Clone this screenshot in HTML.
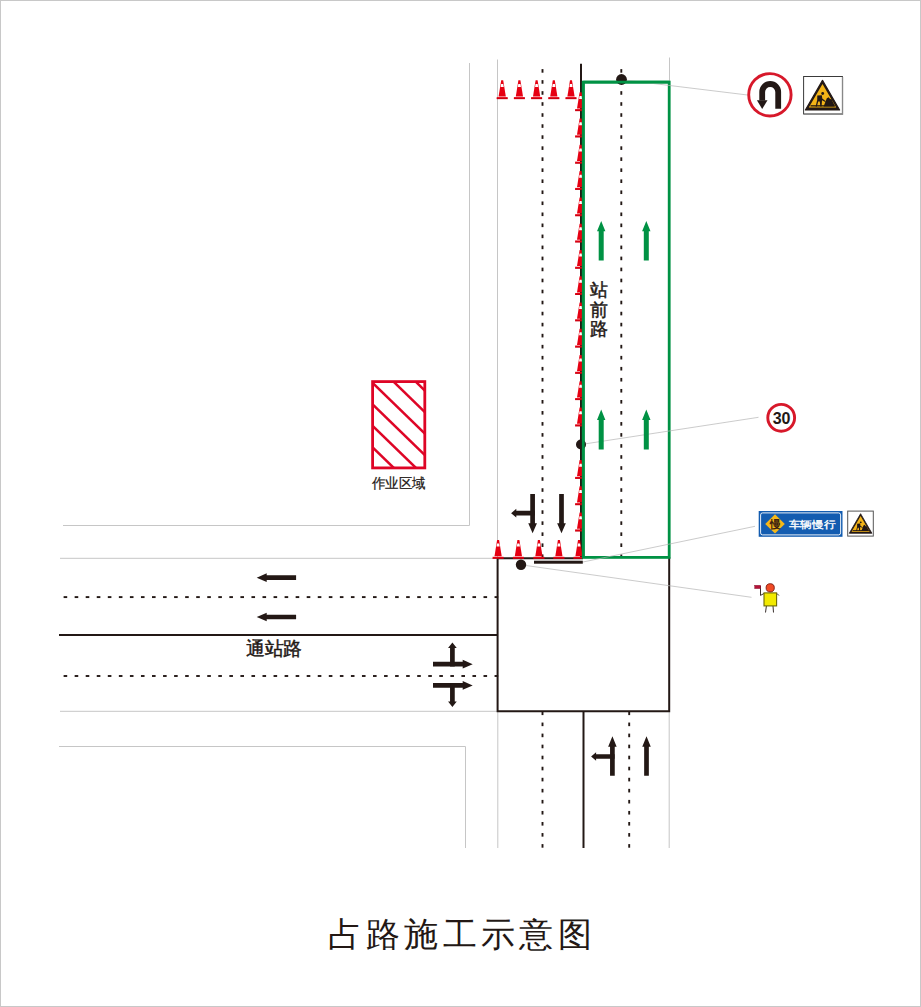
<!DOCTYPE html>
<html><head><meta charset="utf-8"><style>
html,body{margin:0;padding:0;background:#fff;}
svg{display:block;}
.t{font-family:"Liberation Sans",sans-serif;}
.s{font-family:"Liberation Serif",serif;}
</style></head><body>
<svg width="921" height="1007" viewBox="0 0 921 1007">
<defs><clipPath id="cl"><rect x="0" y="0" width="582" height="1007"/></clipPath></defs>
<rect x="0.5" y="0.5" width="920" height="1006" fill="#fff" stroke="#c8c8c8" stroke-width="1"/>

<path d="M63,525.5 H469.5 V63" fill="none" stroke="#c6c6c6" stroke-width="1"/>
<path d="M59,746.5 H465.5 V848" fill="none" stroke="#c6c6c6" stroke-width="1"/>
<path d="M497.5,59.5 V558" fill="none" stroke="#c6c6c6" stroke-width="1"/>
<path d="M669.5,57.5 V82" fill="none" stroke="#c6c6c6" stroke-width="1"/>
<path d="M60,558.3 H497.5" fill="none" stroke="#c6c6c6" stroke-width="1"/>
<path d="M60,711.3 H497.5" fill="none" stroke="#c6c6c6" stroke-width="1"/>
<path d="M497.8,711 V848 M669.2,711 V848" fill="none" stroke="#c6c6c6" stroke-width="1"/>
<path d="M581,63.7 V558" fill="none" stroke="#231815" stroke-width="2"/>
<path d="M59,634.9 H498" fill="none" stroke="#231815" stroke-width="2"/>
<path d="M583.5,711 V848" fill="none" stroke="#231815" stroke-width="2"/>
<path d="M497.6,558.3 V711.2 H669.2 V557" fill="none" stroke="#231815" stroke-width="2"/>
<path d="M497,558.3 H583" fill="none" stroke="#231815" stroke-width="2"/>
<rect x="541.55" y="69.10" width="1.9" height="3.6" fill="#231815"/><rect x="541.55" y="80.13" width="1.9" height="3.6" fill="#231815"/><rect x="541.55" y="91.16" width="1.9" height="3.6" fill="#231815"/><rect x="541.55" y="102.19" width="1.9" height="3.6" fill="#231815"/><rect x="541.55" y="113.22" width="1.9" height="3.6" fill="#231815"/><rect x="541.55" y="124.25" width="1.9" height="3.6" fill="#231815"/><rect x="541.55" y="135.28" width="1.9" height="3.6" fill="#231815"/><rect x="541.55" y="146.31" width="1.9" height="3.6" fill="#231815"/><rect x="541.55" y="157.34" width="1.9" height="3.6" fill="#231815"/><rect x="541.55" y="168.37" width="1.9" height="3.6" fill="#231815"/><rect x="541.55" y="179.40" width="1.9" height="3.6" fill="#231815"/><rect x="541.55" y="190.43" width="1.9" height="3.6" fill="#231815"/><rect x="541.55" y="201.46" width="1.9" height="3.6" fill="#231815"/><rect x="541.55" y="212.49" width="1.9" height="3.6" fill="#231815"/><rect x="541.55" y="223.52" width="1.9" height="3.6" fill="#231815"/><rect x="541.55" y="234.55" width="1.9" height="3.6" fill="#231815"/><rect x="541.55" y="245.58" width="1.9" height="3.6" fill="#231815"/><rect x="541.55" y="256.61" width="1.9" height="3.6" fill="#231815"/><rect x="541.55" y="267.64" width="1.9" height="3.6" fill="#231815"/><rect x="541.55" y="278.67" width="1.9" height="3.6" fill="#231815"/><rect x="541.55" y="289.70" width="1.9" height="3.6" fill="#231815"/><rect x="541.55" y="300.73" width="1.9" height="3.6" fill="#231815"/><rect x="541.55" y="311.76" width="1.9" height="3.6" fill="#231815"/><rect x="541.55" y="322.79" width="1.9" height="3.6" fill="#231815"/><rect x="541.55" y="333.82" width="1.9" height="3.6" fill="#231815"/><rect x="541.55" y="344.85" width="1.9" height="3.6" fill="#231815"/><rect x="541.55" y="355.88" width="1.9" height="3.6" fill="#231815"/><rect x="541.55" y="366.91" width="1.9" height="3.6" fill="#231815"/><rect x="541.55" y="377.94" width="1.9" height="3.6" fill="#231815"/><rect x="541.55" y="388.97" width="1.9" height="3.6" fill="#231815"/><rect x="541.55" y="400.00" width="1.9" height="3.6" fill="#231815"/><rect x="541.55" y="411.03" width="1.9" height="3.6" fill="#231815"/><rect x="541.55" y="422.06" width="1.9" height="3.6" fill="#231815"/><rect x="541.55" y="433.09" width="1.9" height="3.6" fill="#231815"/><rect x="541.55" y="444.12" width="1.9" height="3.6" fill="#231815"/><rect x="541.55" y="455.15" width="1.9" height="3.6" fill="#231815"/><rect x="541.55" y="466.18" width="1.9" height="3.6" fill="#231815"/><rect x="541.55" y="477.21" width="1.9" height="3.6" fill="#231815"/><rect x="541.55" y="488.24" width="1.9" height="3.6" fill="#231815"/><rect x="541.55" y="499.27" width="1.9" height="3.6" fill="#231815"/><rect x="541.55" y="510.30" width="1.9" height="3.6" fill="#231815"/><rect x="541.55" y="521.33" width="1.9" height="3.6" fill="#231815"/><rect x="541.55" y="532.36" width="1.9" height="3.6" fill="#231815"/><rect x="541.55" y="543.39" width="1.9" height="3.6" fill="#231815"/><rect x="541.55" y="554.42" width="1.9" height="3.6" fill="#231815"/>
<rect x="620.35" y="69.10" width="1.9" height="3.6" fill="#231815"/><rect x="620.35" y="80.13" width="1.9" height="3.6" fill="#231815"/><rect x="620.35" y="91.16" width="1.9" height="3.6" fill="#231815"/><rect x="620.35" y="102.19" width="1.9" height="3.6" fill="#231815"/><rect x="620.35" y="113.22" width="1.9" height="3.6" fill="#231815"/><rect x="620.35" y="124.25" width="1.9" height="3.6" fill="#231815"/><rect x="620.35" y="135.28" width="1.9" height="3.6" fill="#231815"/><rect x="620.35" y="146.31" width="1.9" height="3.6" fill="#231815"/><rect x="620.35" y="157.34" width="1.9" height="3.6" fill="#231815"/><rect x="620.35" y="168.37" width="1.9" height="3.6" fill="#231815"/><rect x="620.35" y="179.40" width="1.9" height="3.6" fill="#231815"/><rect x="620.35" y="190.43" width="1.9" height="3.6" fill="#231815"/><rect x="620.35" y="201.46" width="1.9" height="3.6" fill="#231815"/><rect x="620.35" y="212.49" width="1.9" height="3.6" fill="#231815"/><rect x="620.35" y="223.52" width="1.9" height="3.6" fill="#231815"/><rect x="620.35" y="234.55" width="1.9" height="3.6" fill="#231815"/><rect x="620.35" y="245.58" width="1.9" height="3.6" fill="#231815"/><rect x="620.35" y="256.61" width="1.9" height="3.6" fill="#231815"/><rect x="620.35" y="267.64" width="1.9" height="3.6" fill="#231815"/><rect x="620.35" y="278.67" width="1.9" height="3.6" fill="#231815"/><rect x="620.35" y="289.70" width="1.9" height="3.6" fill="#231815"/><rect x="620.35" y="300.73" width="1.9" height="3.6" fill="#231815"/><rect x="620.35" y="311.76" width="1.9" height="3.6" fill="#231815"/><rect x="620.35" y="322.79" width="1.9" height="3.6" fill="#231815"/><rect x="620.35" y="333.82" width="1.9" height="3.6" fill="#231815"/><rect x="620.35" y="344.85" width="1.9" height="3.6" fill="#231815"/><rect x="620.35" y="355.88" width="1.9" height="3.6" fill="#231815"/><rect x="620.35" y="366.91" width="1.9" height="3.6" fill="#231815"/><rect x="620.35" y="377.94" width="1.9" height="3.6" fill="#231815"/><rect x="620.35" y="388.97" width="1.9" height="3.6" fill="#231815"/><rect x="620.35" y="400.00" width="1.9" height="3.6" fill="#231815"/><rect x="620.35" y="411.03" width="1.9" height="3.6" fill="#231815"/><rect x="620.35" y="422.06" width="1.9" height="3.6" fill="#231815"/><rect x="620.35" y="433.09" width="1.9" height="3.6" fill="#231815"/><rect x="620.35" y="444.12" width="1.9" height="3.6" fill="#231815"/><rect x="620.35" y="455.15" width="1.9" height="3.6" fill="#231815"/><rect x="620.35" y="466.18" width="1.9" height="3.6" fill="#231815"/><rect x="620.35" y="477.21" width="1.9" height="3.6" fill="#231815"/><rect x="620.35" y="488.24" width="1.9" height="3.6" fill="#231815"/><rect x="620.35" y="499.27" width="1.9" height="3.6" fill="#231815"/><rect x="620.35" y="510.30" width="1.9" height="3.6" fill="#231815"/><rect x="620.35" y="521.33" width="1.9" height="3.6" fill="#231815"/><rect x="620.35" y="532.36" width="1.9" height="3.6" fill="#231815"/><rect x="620.35" y="543.39" width="1.9" height="3.6" fill="#231815"/><rect x="620.35" y="554.42" width="1.9" height="3.6" fill="#231815"/>
<rect x="541.55" y="711.50" width="1.9" height="3.6" fill="#231815"/><rect x="541.55" y="722.55" width="1.9" height="3.6" fill="#231815"/><rect x="541.55" y="733.60" width="1.9" height="3.6" fill="#231815"/><rect x="541.55" y="744.65" width="1.9" height="3.6" fill="#231815"/><rect x="541.55" y="755.70" width="1.9" height="3.6" fill="#231815"/><rect x="541.55" y="766.75" width="1.9" height="3.6" fill="#231815"/><rect x="541.55" y="777.80" width="1.9" height="3.6" fill="#231815"/><rect x="541.55" y="788.85" width="1.9" height="3.6" fill="#231815"/><rect x="541.55" y="799.90" width="1.9" height="3.6" fill="#231815"/><rect x="541.55" y="810.95" width="1.9" height="3.6" fill="#231815"/><rect x="541.55" y="822.00" width="1.9" height="3.6" fill="#231815"/><rect x="541.55" y="833.05" width="1.9" height="3.6" fill="#231815"/><rect x="541.55" y="844.10" width="1.9" height="3.6" fill="#231815"/>
<rect x="628.25" y="711.50" width="1.9" height="3.6" fill="#231815"/><rect x="628.25" y="722.55" width="1.9" height="3.6" fill="#231815"/><rect x="628.25" y="733.60" width="1.9" height="3.6" fill="#231815"/><rect x="628.25" y="744.65" width="1.9" height="3.6" fill="#231815"/><rect x="628.25" y="755.70" width="1.9" height="3.6" fill="#231815"/><rect x="628.25" y="766.75" width="1.9" height="3.6" fill="#231815"/><rect x="628.25" y="777.80" width="1.9" height="3.6" fill="#231815"/><rect x="628.25" y="788.85" width="1.9" height="3.6" fill="#231815"/><rect x="628.25" y="799.90" width="1.9" height="3.6" fill="#231815"/><rect x="628.25" y="810.95" width="1.9" height="3.6" fill="#231815"/><rect x="628.25" y="822.00" width="1.9" height="3.6" fill="#231815"/><rect x="628.25" y="833.05" width="1.9" height="3.6" fill="#231815"/><rect x="628.25" y="844.10" width="1.9" height="3.6" fill="#231815"/>
<rect x="63.60" y="596.15" width="3.6" height="1.9" fill="#231815"/><rect x="74.65" y="596.15" width="3.6" height="1.9" fill="#231815"/><rect x="85.70" y="596.15" width="3.6" height="1.9" fill="#231815"/><rect x="96.75" y="596.15" width="3.6" height="1.9" fill="#231815"/><rect x="107.80" y="596.15" width="3.6" height="1.9" fill="#231815"/><rect x="118.85" y="596.15" width="3.6" height="1.9" fill="#231815"/><rect x="129.90" y="596.15" width="3.6" height="1.9" fill="#231815"/><rect x="140.95" y="596.15" width="3.6" height="1.9" fill="#231815"/><rect x="152.00" y="596.15" width="3.6" height="1.9" fill="#231815"/><rect x="163.05" y="596.15" width="3.6" height="1.9" fill="#231815"/><rect x="174.10" y="596.15" width="3.6" height="1.9" fill="#231815"/><rect x="185.15" y="596.15" width="3.6" height="1.9" fill="#231815"/><rect x="196.20" y="596.15" width="3.6" height="1.9" fill="#231815"/><rect x="207.25" y="596.15" width="3.6" height="1.9" fill="#231815"/><rect x="218.30" y="596.15" width="3.6" height="1.9" fill="#231815"/><rect x="229.35" y="596.15" width="3.6" height="1.9" fill="#231815"/><rect x="240.40" y="596.15" width="3.6" height="1.9" fill="#231815"/><rect x="251.45" y="596.15" width="3.6" height="1.9" fill="#231815"/><rect x="262.50" y="596.15" width="3.6" height="1.9" fill="#231815"/><rect x="273.55" y="596.15" width="3.6" height="1.9" fill="#231815"/><rect x="284.60" y="596.15" width="3.6" height="1.9" fill="#231815"/><rect x="295.65" y="596.15" width="3.6" height="1.9" fill="#231815"/><rect x="306.70" y="596.15" width="3.6" height="1.9" fill="#231815"/><rect x="317.75" y="596.15" width="3.6" height="1.9" fill="#231815"/><rect x="328.80" y="596.15" width="3.6" height="1.9" fill="#231815"/><rect x="339.85" y="596.15" width="3.6" height="1.9" fill="#231815"/><rect x="350.90" y="596.15" width="3.6" height="1.9" fill="#231815"/><rect x="361.95" y="596.15" width="3.6" height="1.9" fill="#231815"/><rect x="373.00" y="596.15" width="3.6" height="1.9" fill="#231815"/><rect x="384.05" y="596.15" width="3.6" height="1.9" fill="#231815"/><rect x="395.10" y="596.15" width="3.6" height="1.9" fill="#231815"/><rect x="406.15" y="596.15" width="3.6" height="1.9" fill="#231815"/><rect x="417.20" y="596.15" width="3.6" height="1.9" fill="#231815"/><rect x="428.25" y="596.15" width="3.6" height="1.9" fill="#231815"/><rect x="439.30" y="596.15" width="3.6" height="1.9" fill="#231815"/><rect x="450.35" y="596.15" width="3.6" height="1.9" fill="#231815"/><rect x="461.40" y="596.15" width="3.6" height="1.9" fill="#231815"/><rect x="472.45" y="596.15" width="3.6" height="1.9" fill="#231815"/><rect x="483.50" y="596.15" width="3.6" height="1.9" fill="#231815"/><rect x="494.55" y="596.15" width="3.6" height="1.9" fill="#231815"/>
<rect x="63.60" y="675.05" width="3.6" height="1.9" fill="#231815"/><rect x="74.65" y="675.05" width="3.6" height="1.9" fill="#231815"/><rect x="85.70" y="675.05" width="3.6" height="1.9" fill="#231815"/><rect x="96.75" y="675.05" width="3.6" height="1.9" fill="#231815"/><rect x="107.80" y="675.05" width="3.6" height="1.9" fill="#231815"/><rect x="118.85" y="675.05" width="3.6" height="1.9" fill="#231815"/><rect x="129.90" y="675.05" width="3.6" height="1.9" fill="#231815"/><rect x="140.95" y="675.05" width="3.6" height="1.9" fill="#231815"/><rect x="152.00" y="675.05" width="3.6" height="1.9" fill="#231815"/><rect x="163.05" y="675.05" width="3.6" height="1.9" fill="#231815"/><rect x="174.10" y="675.05" width="3.6" height="1.9" fill="#231815"/><rect x="185.15" y="675.05" width="3.6" height="1.9" fill="#231815"/><rect x="196.20" y="675.05" width="3.6" height="1.9" fill="#231815"/><rect x="207.25" y="675.05" width="3.6" height="1.9" fill="#231815"/><rect x="218.30" y="675.05" width="3.6" height="1.9" fill="#231815"/><rect x="229.35" y="675.05" width="3.6" height="1.9" fill="#231815"/><rect x="240.40" y="675.05" width="3.6" height="1.9" fill="#231815"/><rect x="251.45" y="675.05" width="3.6" height="1.9" fill="#231815"/><rect x="262.50" y="675.05" width="3.6" height="1.9" fill="#231815"/><rect x="273.55" y="675.05" width="3.6" height="1.9" fill="#231815"/><rect x="284.60" y="675.05" width="3.6" height="1.9" fill="#231815"/><rect x="295.65" y="675.05" width="3.6" height="1.9" fill="#231815"/><rect x="306.70" y="675.05" width="3.6" height="1.9" fill="#231815"/><rect x="317.75" y="675.05" width="3.6" height="1.9" fill="#231815"/><rect x="328.80" y="675.05" width="3.6" height="1.9" fill="#231815"/><rect x="339.85" y="675.05" width="3.6" height="1.9" fill="#231815"/><rect x="350.90" y="675.05" width="3.6" height="1.9" fill="#231815"/><rect x="361.95" y="675.05" width="3.6" height="1.9" fill="#231815"/><rect x="373.00" y="675.05" width="3.6" height="1.9" fill="#231815"/><rect x="384.05" y="675.05" width="3.6" height="1.9" fill="#231815"/><rect x="395.10" y="675.05" width="3.6" height="1.9" fill="#231815"/><rect x="406.15" y="675.05" width="3.6" height="1.9" fill="#231815"/><rect x="417.20" y="675.05" width="3.6" height="1.9" fill="#231815"/><rect x="428.25" y="675.05" width="3.6" height="1.9" fill="#231815"/><rect x="439.30" y="675.05" width="3.6" height="1.9" fill="#231815"/><rect x="450.35" y="675.05" width="3.6" height="1.9" fill="#231815"/><rect x="461.40" y="675.05" width="3.6" height="1.9" fill="#231815"/><rect x="472.45" y="675.05" width="3.6" height="1.9" fill="#231815"/><rect x="483.50" y="675.05" width="3.6" height="1.9" fill="#231815"/><rect x="494.55" y="675.05" width="3.6" height="1.9" fill="#231815"/>
<rect x="583.3" y="82.1" width="85.9" height="475.3" fill="none" stroke="#009244" stroke-width="2.8"/>
<path d="M621.4,79.6 L747.5,95 M581,444.5 L758.5,417.3 M521,564.8 L751.5,597.3 M583,562 L755,526.3" stroke="#b4b4b4" stroke-width="0.7" fill="none"/>
<circle cx="621.5" cy="79.5" r="5.4" fill="#231815"/>
<path d="M583.3,82.1 H669.2" stroke="#009244" stroke-width="2.9"/>
<circle cx="581" cy="444.5" r="5" fill="#231815"/>
<circle cx="521" cy="564.8" r="5.2" fill="#231815"/>
<rect x="534.00" y="560.70" width="48.80" height="3.00" fill="#231815"/>
<g><polygon points="501.20,80.30 503.20,80.30 505.81,96.50 498.59,96.50" fill="#e60012"/><polygon points="501.12,83.90 503.28,83.90 503.76,86.90 500.64,86.90" fill="#fff"/><rect x="496.70" y="97.10" width="11.0" height="2.0" fill="#e60012"/><rect x="496.70" y="98.40" width="11.0" height="0.7" fill="#a00010" opacity="0.6"/></g>
<g><polygon points="518.40,80.30 520.40,80.30 523.01,96.50 515.79,96.50" fill="#e60012"/><polygon points="518.32,83.90 520.48,83.90 520.96,86.90 517.84,86.90" fill="#fff"/><rect x="513.90" y="97.10" width="11.0" height="2.0" fill="#e60012"/><rect x="513.90" y="98.40" width="11.0" height="0.7" fill="#a00010" opacity="0.6"/></g>
<g><polygon points="535.60,80.30 537.60,80.30 540.21,96.50 532.99,96.50" fill="#e60012"/><polygon points="535.52,83.90 537.68,83.90 538.16,86.90 535.04,86.90" fill="#fff"/><rect x="531.10" y="97.10" width="11.0" height="2.0" fill="#e60012"/><rect x="531.10" y="98.40" width="11.0" height="0.7" fill="#a00010" opacity="0.6"/></g>
<g><polygon points="552.80,80.30 554.80,80.30 557.41,96.50 550.19,96.50" fill="#e60012"/><polygon points="552.72,83.90 554.88,83.90 555.36,86.90 552.24,86.90" fill="#fff"/><rect x="548.30" y="97.10" width="11.0" height="2.0" fill="#e60012"/><rect x="548.30" y="98.40" width="11.0" height="0.7" fill="#a00010" opacity="0.6"/></g>
<g><polygon points="570.00,80.30 572.00,80.30 574.61,96.50 567.39,96.50" fill="#e60012"/><polygon points="569.92,83.90 572.08,83.90 572.56,86.90 569.44,86.90" fill="#fff"/><rect x="565.50" y="97.10" width="11.0" height="2.0" fill="#e60012"/><rect x="565.50" y="98.40" width="11.0" height="0.7" fill="#a00010" opacity="0.6"/></g>
<g><polygon points="497.10,540.00 499.10,540.00 501.71,556.20 494.49,556.20" fill="#e60012"/><polygon points="497.02,543.60 499.18,543.60 499.66,546.60 496.54,546.60" fill="#fff"/><rect x="492.60" y="556.80" width="11.0" height="2.0" fill="#e60012"/><rect x="492.60" y="558.10" width="11.0" height="0.7" fill="#a00010" opacity="0.6"/></g>
<g><polygon points="517.40,540.00 519.40,540.00 522.01,556.20 514.79,556.20" fill="#e60012"/><polygon points="517.32,543.60 519.48,543.60 519.96,546.60 516.84,546.60" fill="#fff"/><rect x="512.90" y="556.80" width="11.0" height="2.0" fill="#e60012"/><rect x="512.90" y="558.10" width="11.0" height="0.7" fill="#a00010" opacity="0.6"/></g>
<g><polygon points="537.90,540.00 539.90,540.00 542.51,556.20 535.29,556.20" fill="#e60012"/><polygon points="537.82,543.60 539.98,543.60 540.46,546.60 537.34,546.60" fill="#fff"/><rect x="533.40" y="556.80" width="11.0" height="2.0" fill="#e60012"/><rect x="533.40" y="558.10" width="11.0" height="0.7" fill="#a00010" opacity="0.6"/></g>
<g><polygon points="557.90,540.00 559.90,540.00 562.51,556.20 555.29,556.20" fill="#e60012"/><polygon points="557.82,543.60 559.98,543.60 560.46,546.60 557.34,546.60" fill="#fff"/><rect x="553.40" y="556.80" width="11.0" height="2.0" fill="#e60012"/><rect x="553.40" y="558.10" width="11.0" height="0.7" fill="#a00010" opacity="0.6"/></g>
<g clip-path="url(#cl)"><polygon points="578.00,540.00 580.00,540.00 582.61,556.20 575.39,556.20" fill="#e60012"/><polygon points="577.92,543.60 580.08,543.60 580.56,546.60 577.44,546.60" fill="#fff"/><rect x="573.50" y="556.80" width="11.0" height="2.0" fill="#e60012"/><rect x="573.50" y="558.10" width="11.0" height="0.7" fill="#a00010" opacity="0.6"/></g>
<g clip-path="url(#cl)"><polygon points="579.60,92.30 581.60,92.30 584.21,108.50 576.99,108.50" fill="#e60012"/><polygon points="579.52,95.90 581.68,95.90 582.16,98.90 579.04,98.90" fill="#fff"/><rect x="575.10" y="109.10" width="11.0" height="2.0" fill="#e60012"/><rect x="575.10" y="110.40" width="11.0" height="0.7" fill="#a00010" opacity="0.6"/></g>
<g clip-path="url(#cl)"><polygon points="579.60,118.57 581.60,118.57 584.21,134.77 576.99,134.77" fill="#e60012"/><polygon points="579.52,122.17 581.68,122.17 582.16,125.17 579.04,125.17" fill="#fff"/><rect x="575.10" y="135.37" width="11.0" height="2.0" fill="#e60012"/><rect x="575.10" y="136.67" width="11.0" height="0.7" fill="#a00010" opacity="0.6"/></g>
<g clip-path="url(#cl)"><polygon points="579.60,144.84 581.60,144.84 584.21,161.04 576.99,161.04" fill="#e60012"/><polygon points="579.52,148.44 581.68,148.44 582.16,151.44 579.04,151.44" fill="#fff"/><rect x="575.10" y="161.64" width="11.0" height="2.0" fill="#e60012"/><rect x="575.10" y="162.94" width="11.0" height="0.7" fill="#a00010" opacity="0.6"/></g>
<g clip-path="url(#cl)"><polygon points="579.60,171.11 581.60,171.11 584.21,187.31 576.99,187.31" fill="#e60012"/><polygon points="579.52,174.71 581.68,174.71 582.16,177.71 579.04,177.71" fill="#fff"/><rect x="575.10" y="187.91" width="11.0" height="2.0" fill="#e60012"/><rect x="575.10" y="189.21" width="11.0" height="0.7" fill="#a00010" opacity="0.6"/></g>
<g clip-path="url(#cl)"><polygon points="579.60,197.38 581.60,197.38 584.21,213.58 576.99,213.58" fill="#e60012"/><polygon points="579.52,200.98 581.68,200.98 582.16,203.98 579.04,203.98" fill="#fff"/><rect x="575.10" y="214.18" width="11.0" height="2.0" fill="#e60012"/><rect x="575.10" y="215.48" width="11.0" height="0.7" fill="#a00010" opacity="0.6"/></g>
<g clip-path="url(#cl)"><polygon points="579.60,223.65 581.60,223.65 584.21,239.85 576.99,239.85" fill="#e60012"/><polygon points="579.52,227.25 581.68,227.25 582.16,230.25 579.04,230.25" fill="#fff"/><rect x="575.10" y="240.45" width="11.0" height="2.0" fill="#e60012"/><rect x="575.10" y="241.75" width="11.0" height="0.7" fill="#a00010" opacity="0.6"/></g>
<g clip-path="url(#cl)"><polygon points="579.60,249.92 581.60,249.92 584.21,266.12 576.99,266.12" fill="#e60012"/><polygon points="579.52,253.52 581.68,253.52 582.16,256.52 579.04,256.52" fill="#fff"/><rect x="575.10" y="266.72" width="11.0" height="2.0" fill="#e60012"/><rect x="575.10" y="268.02" width="11.0" height="0.7" fill="#a00010" opacity="0.6"/></g>
<g clip-path="url(#cl)"><polygon points="579.60,276.19 581.60,276.19 584.21,292.39 576.99,292.39" fill="#e60012"/><polygon points="579.52,279.79 581.68,279.79 582.16,282.79 579.04,282.79" fill="#fff"/><rect x="575.10" y="292.99" width="11.0" height="2.0" fill="#e60012"/><rect x="575.10" y="294.29" width="11.0" height="0.7" fill="#a00010" opacity="0.6"/></g>
<g clip-path="url(#cl)"><polygon points="579.60,302.46 581.60,302.46 584.21,318.66 576.99,318.66" fill="#e60012"/><polygon points="579.52,306.06 581.68,306.06 582.16,309.06 579.04,309.06" fill="#fff"/><rect x="575.10" y="319.26" width="11.0" height="2.0" fill="#e60012"/><rect x="575.10" y="320.56" width="11.0" height="0.7" fill="#a00010" opacity="0.6"/></g>
<g clip-path="url(#cl)"><polygon points="579.60,328.73 581.60,328.73 584.21,344.93 576.99,344.93" fill="#e60012"/><polygon points="579.52,332.33 581.68,332.33 582.16,335.33 579.04,335.33" fill="#fff"/><rect x="575.10" y="345.53" width="11.0" height="2.0" fill="#e60012"/><rect x="575.10" y="346.83" width="11.0" height="0.7" fill="#a00010" opacity="0.6"/></g>
<g clip-path="url(#cl)"><polygon points="579.60,355.00 581.60,355.00 584.21,371.20 576.99,371.20" fill="#e60012"/><polygon points="579.52,358.60 581.68,358.60 582.16,361.60 579.04,361.60" fill="#fff"/><rect x="575.10" y="371.80" width="11.0" height="2.0" fill="#e60012"/><rect x="575.10" y="373.10" width="11.0" height="0.7" fill="#a00010" opacity="0.6"/></g>
<g clip-path="url(#cl)"><polygon points="579.60,381.27 581.60,381.27 584.21,397.47 576.99,397.47" fill="#e60012"/><polygon points="579.52,384.87 581.68,384.87 582.16,387.87 579.04,387.87" fill="#fff"/><rect x="575.10" y="398.07" width="11.0" height="2.0" fill="#e60012"/><rect x="575.10" y="399.37" width="11.0" height="0.7" fill="#a00010" opacity="0.6"/></g>
<g clip-path="url(#cl)"><polygon points="579.60,407.54 581.60,407.54 584.21,423.74 576.99,423.74" fill="#e60012"/><polygon points="579.52,411.14 581.68,411.14 582.16,414.14 579.04,414.14" fill="#fff"/><rect x="575.10" y="424.34" width="11.0" height="2.0" fill="#e60012"/><rect x="575.10" y="425.64" width="11.0" height="0.7" fill="#a00010" opacity="0.6"/></g>
<g clip-path="url(#cl)"><polygon points="579.60,460.08 581.60,460.08 584.21,476.28 576.99,476.28" fill="#e60012"/><polygon points="579.52,463.68 581.68,463.68 582.16,466.68 579.04,466.68" fill="#fff"/><rect x="575.10" y="476.88" width="11.0" height="2.0" fill="#e60012"/><rect x="575.10" y="478.18" width="11.0" height="0.7" fill="#a00010" opacity="0.6"/></g>
<g clip-path="url(#cl)"><polygon points="579.60,486.35 581.60,486.35 584.21,502.55 576.99,502.55" fill="#e60012"/><polygon points="579.52,489.95 581.68,489.95 582.16,492.95 579.04,492.95" fill="#fff"/><rect x="575.10" y="503.15" width="11.0" height="2.0" fill="#e60012"/><rect x="575.10" y="504.45" width="11.0" height="0.7" fill="#a00010" opacity="0.6"/></g>
<g clip-path="url(#cl)"><polygon points="579.60,512.62 581.60,512.62 584.21,528.82 576.99,528.82" fill="#e60012"/><polygon points="579.52,516.22 581.68,516.22 582.16,519.22 579.04,519.22" fill="#fff"/><rect x="575.10" y="529.42" width="11.0" height="2.0" fill="#e60012"/><rect x="575.10" y="530.72" width="11.0" height="0.7" fill="#a00010" opacity="0.6"/></g>
<path d="M583.3,81.8 V557.4" stroke="#009244" stroke-width="2.8"/>
<polygon points="603.70,260.40 603.70,231.30 605.40,231.30 601.20,220.90 597.00,231.30 598.70,231.30 598.70,260.40" fill="#009244"/>
<polygon points="603.70,449.40 603.70,419.90 605.40,419.90 601.20,409.50 597.00,419.90 598.70,419.90 598.70,449.40" fill="#009244"/>
<polygon points="648.80,260.40 648.80,231.30 650.50,231.30 646.30,220.90 642.10,231.30 643.80,231.30 643.80,260.40" fill="#009244"/>
<polygon points="648.80,449.40 648.80,419.90 650.50,419.90 646.30,409.50 642.10,419.90 643.80,419.90 643.80,449.40" fill="#009244"/>
<polygon points="530.25,494.10 530.25,523.20 528.25,523.20 532.60,533.20 536.95,523.20 534.95,523.20 534.95,494.10" fill="#231815"/>
<polygon points="534.80,510.85 516.30,510.85 516.30,508.85 511.10,513.20 516.30,517.55 516.30,515.55 534.80,515.55" fill="#231815"/>
<polygon points="559.15,494.10 559.15,523.20 557.15,523.20 561.50,533.20 565.85,523.20 563.85,523.20 563.85,494.10" fill="#231815"/>
<polygon points="296.10,575.35 266.70,575.35 266.70,573.35 256.70,577.70 266.70,582.05 266.70,580.05 296.10,580.05" fill="#231815"/>
<polygon points="296.10,614.65 266.70,614.65 266.70,612.65 256.70,617.00 266.70,621.35 266.70,619.35 296.10,619.35" fill="#231815"/>
<polygon points="433.00,666.55 462.70,666.55 462.70,668.55 472.70,664.20 462.70,659.85 462.70,661.85 433.00,661.85" fill="#231815"/>
<polygon points="454.75,666.40 454.75,648.00 456.75,648.00 452.40,642.50 448.05,648.00 450.05,648.00 450.05,666.40" fill="#231815"/>
<polygon points="433.00,687.75 462.70,687.75 462.70,689.75 472.70,685.40 462.70,681.05 462.70,683.05 433.00,683.05" fill="#231815"/>
<polygon points="450.05,683.20 450.05,701.40 448.05,701.40 452.40,706.90 456.75,701.40 454.75,701.40 454.75,683.20" fill="#231815"/>
<polygon points="614.75,775.70 614.75,746.70 616.65,746.70 612.40,736.20 608.15,746.70 610.05,746.70 610.05,775.70" fill="#231815"/>
<polygon points="614.60,754.15 596.10,754.15 596.10,752.15 591.10,756.50 596.10,760.85 596.10,758.85 614.60,758.85" fill="#231815"/>
<polygon points="648.85,775.70 648.85,746.70 650.75,746.70 646.50,736.20 642.25,746.70 644.15,746.70 644.15,775.70" fill="#231815"/>
<clipPath id="hb"><rect x="373" y="382" width="51.5" height="86"/></clipPath>
<g clip-path="url(#hb)" stroke="#de0526" stroke-width="2.5" fill="none"><path d="M369,250.35 L430,309.52" /><path d="M369,271.85 L430,331.02" /><path d="M369,293.35 L430,352.52" /><path d="M369,314.85 L430,374.02" /><path d="M369,336.35 L430,395.52" /><path d="M369,357.85 L430,417.02" /><path d="M369,379.35 L430,438.52" /><path d="M369,400.85 L430,460.02" /><path d="M369,422.35 L430,481.52" /><path d="M369,443.85 L430,503.02" /><path d="M369,465.35 L430,524.52" /><path d="M369,486.85 L430,546.02" /><path d="M369,508.35 L430,567.52" /><path d="M369,529.85 L430,589.02" /></g>
<rect x="372.6" y="381.6" width="52.2" height="86.3" fill="none" stroke="#de0526" stroke-width="2.8"/>
<text x="245.8" y="655.3" class="t" font-size="18.6" fill="#231815" stroke="#231815" stroke-width="0.45" textLength="56.5" lengthAdjust="spacingAndGlyphs">通站路</text>
<text class="t" font-size="18" fill="#231815" stroke="#231815" stroke-width="0.45"><tspan x="589.5" y="296">站</tspan><tspan x="589.5" y="315.5">前</tspan><tspan x="589.5" y="335">路</tspan></text>
<text x="371.8" y="488" class="t" font-size="13.5" fill="#231815" stroke="#231815" stroke-width="0.25" textLength="53.6" lengthAdjust="spacingAndGlyphs">作业区域</text>
<text x="327.5" y="945.5" class="s" font-size="34" fill="#231815" textLength="264" lengthAdjust="spacing">占路施工示意图</text>
<circle cx="769.9" cy="94.8" r="21.2" fill="#fff" stroke="#d7182a" stroke-width="2.9"/>
<path d="M778.2,108.7 V92 A8,8 0 0 0 762.2,92 V100.5" fill="none" stroke="#231815" stroke-width="5.8"/>
<polygon points="756.9,100.2 767.5,100.2 762.2,108.9" fill="#231815"/>
<rect x="803.6" y="76.5" width="38.8" height="37.5" fill="#fff" stroke="#3a3a3a" stroke-width="1"/>
<path d="M842.6,77 V114.2 H804" fill="none" stroke="#888" stroke-width="1.2"/>
<polygon points="822.5,80.4 839.6,110.0 805.4,110.0" fill="#231815" stroke="#231815" stroke-width="1.2" stroke-linejoin="round"/><polygon points="822.5,84.0 836.2,107.5 808.8,107.5" fill="#f4b417"/><g fill="#231815"><circle cx="822.7" cy="93.5" r="1.4"/><polygon points="817.3,95.4 821.8,95.2 822.3,98.5 825.8,101.3 825.3,102 822,100.2 821.6,106.4 820.3,106.4 819.8,101.5 818.2,101.5 816.9,106.4 815.6,106.4 817.2,100"/><polygon points="823.6,106.4 826.8,98.2 828.7,97.2 830.2,99.2 831.3,98.8 835.2,106.4"/><rect x="810.5" y="105.2" width="24" height="1.3"/></g>
<circle cx="781.2" cy="417.8" r="13.4" fill="#fff" stroke="#d7182a" stroke-width="2.9"/>
<text x="781.6" y="424" class="t" font-size="16" font-weight="bold" text-anchor="middle" fill="#231815">30</text>
<rect x="758.7" y="511" width="83.8" height="25.8" fill="#135cb0"/>
<rect x="760.6" y="512.9" width="80" height="22" rx="2" fill="none" stroke="#fff" stroke-width="0.9"/>
<polygon points="775,514.2 784.8,523.9 775,533.6 765.2,523.9" fill="#f5b819"/>
<text x="775" y="528.2" class="t" font-size="11" font-weight="bold" text-anchor="middle" fill="#3a2010">慢</text>
<text x="788.7" y="527.6" class="t" font-size="10.2" fill="#fff" stroke="#fff" stroke-width="0.35" textLength="47" lengthAdjust="spacingAndGlyphs">车辆慢行</text>
<rect x="847.7" y="511.1" width="25.6" height="25" fill="#fff" stroke="#555" stroke-width="1"/>
<g transform="translate(860.6,513.7) scale(0.662) translate(-822.5,-80.4)"><polygon points="822.5,80.4 839.6,110.0 805.4,110.0" fill="#231815" stroke="#231815" stroke-width="1.2" stroke-linejoin="round"/><polygon points="822.5,84.0 836.2,107.5 808.8,107.5" fill="#f4b417"/><g fill="#231815"><circle cx="822.7" cy="93.5" r="1.4"/><polygon points="817.3,95.4 821.8,95.2 822.3,98.5 825.8,101.3 825.3,102 822,100.2 821.6,106.4 820.3,106.4 819.8,101.5 818.2,101.5 816.9,106.4 815.6,106.4 817.2,100"/><polygon points="823.6,106.4 826.8,98.2 828.7,97.2 830.2,99.2 831.3,98.8 835.2,106.4"/><rect x="810.5" y="105.2" width="24" height="1.3"/></g></g>
<path d="M766.4,606 L765.5,612.5 M773,606 L773.5,612.5" stroke="#231815" stroke-width="0.9" fill="none"/>
<path d="M764,593.5 L760.5,595.4 L760.5,586 M777,593.5 L778.9,595.5" stroke="#231815" stroke-width="0.9" fill="none"/>
<rect x="754.7" y="585.3" width="6" height="3.3" fill="#b5123a" stroke="#7a0a20" stroke-width="0.4"/>
<rect x="764" y="592.9" width="12.6" height="13" fill="#f2ea00" stroke="#6e6a00" stroke-width="1.1"/>
<circle cx="770.2" cy="587.8" r="4.1" fill="#f04a24" stroke="#7a1a10" stroke-width="0.9"/>
</svg></body></html>
